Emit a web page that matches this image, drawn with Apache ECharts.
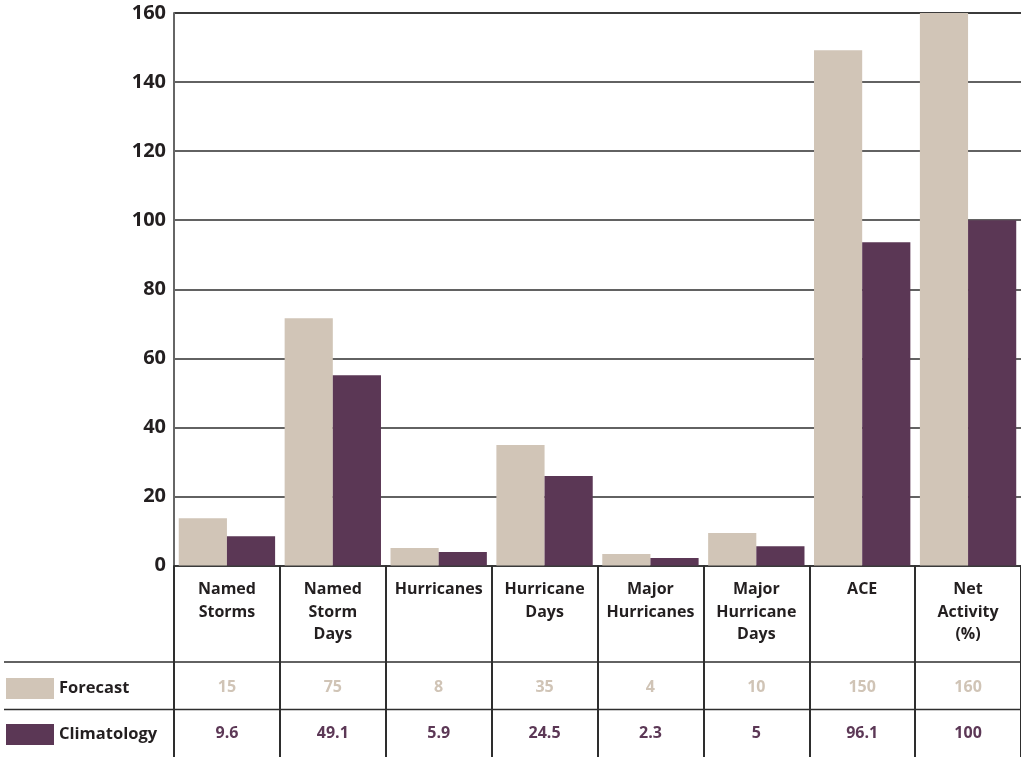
<!DOCTYPE html>
<html>
<head>
<meta charset="utf-8">
<script src="https://cdn.jsdelivr.net/npm/echarts@6/dist/echarts.min.js"></script>
<style>
html,body{margin:0;padding:0;background:#fff;}
#chart{width:1021px;height:757px;}
</style>
</head>
<body>
<div id="chart"></div>
<script>
// Data
const categories = ['Named\nStorms', 'Named\nStorm\nDays', 'Hurricanes', 'Hurricane\nDays', 'Major\nHurricanes', 'Major\nHurricane\nDays', 'ACE', 'Net\nActivity\n(%)'];
const forecastBars = [13.7, 71.6, 5.1, 34.9, 3.3, 9.4, 149.2, 160];
const climatologyBars = [8.5, 55.1, 3.9, 25.9, 2.2, 5.6, 93.6, 100];
const forecastTable = ['15', '75', '8', '35', '4', '10', '150', '160'];
const climatologyTable = ['9.6', '49.1', '5.9', '24.5', '2.3', '5', '96.1', '100'];
const yTicks = { min: 0, max: 160, interval: 20 };

const FONT = '"Open Sans", "Noto Sans", sans-serif';
const DARK = '#231f20';
const C_FORE = '#d1c5b7';
const C_CLIM = '#5b3755';
const LINE = '#2e2e2e';

const chart = echarts.init(document.getElementById('chart'), null, { renderer: 'canvas' });

const hiddenAxis = (data, color, margin) => ({
  type: 'category',
  data: data,
  position: 'bottom',
  gridIndex: 0,
  axisLine: { show: false },
  axisTick: { show: false },
  splitLine: { show: false },
  axisLabel: {
    margin: margin,
    color: color,
    fontFamily: FONT,
    fontWeight: 'bold',
    fontSize: 16,
    verticalAlign: 'middle',
    interval: 0
  }
});

chart.setOption({
  animation: false,
  backgroundColor: '#fff',
  grid: { left: 174, right: 0, top: 13, bottom: 191.5 },
  legend: {
    orient: 'vertical',
    left: 6,
    top: 678,
    padding: 0,
    itemWidth: 48,
    itemHeight: 21,
    itemGap: 25,
    icon: 'rect',
    selectedMode: false,
    textStyle: { color: DARK, fontFamily: FONT, fontWeight: 'bold', fontSize: 16.5 },
    data: ['Forecast', 'Climatology']
  },
  xAxis: [
    {
      type: 'category',
      data: categories,
      position: 'bottom',
      axisLine: { show: true, lineStyle: { color: LINE, width: 1.5 } },
      axisTick: { show: true, length: 192, lineStyle: { color: LINE, width: 2 } },
      splitLine: { show: false },
      axisLabel: {
        interval: 0,
        margin: 13,
        color: DARK,
        fontFamily: FONT,
        fontWeight: 'bold',
        fontSize: 16,
        lineHeight: 22.5,
        verticalAlign: 'top',
        align: 'center'
      }
    },
    hiddenAxis(forecastTable, '#d0c4b6', 122),
    hiddenAxis(climatologyTable, '#5c3856', 167.5)
  ],
  yAxis: {
    type: 'value',
    min: yTicks.min,
    max: yTicks.max,
    interval: yTicks.interval,
    axisLine: { show: true, lineStyle: { color: '#666', width: 2 } },
    axisTick: { show: false },
    splitLine: { show: true, lineStyle: { color: LINE, width: 1.5 } },
    axisLabel: {
      margin: 8,
      color: DARK,
      fontFamily: FONT,
      fontWeight: 'bold',
      fontSize: 20
    }
  },
  graphic: [
    { type: 'line', shape: { x1: 4, y1: 662, x2: 1021, y2: 662 }, style: { stroke: LINE, lineWidth: 1.5 } },
    { type: 'line', shape: { x1: 4, y1: 709.5, x2: 1021, y2: 709.5 }, style: { stroke: LINE, lineWidth: 1.5 } },
    { type: 'line', shape: { x1: 174, y1: 13, x2: 1021, y2: 13 }, style: { stroke: '#666', lineWidth: 2 } }
  ],
  series: [
    {
      name: 'Forecast',
      type: 'bar',
      xAxisIndex: 0,
      data: forecastBars,
      itemStyle: { color: C_FORE },
      barGap: '0%',
      barCategoryGap: '9%'
    },
    {
      name: 'Climatology',
      type: 'bar',
      xAxisIndex: 0,
      data: climatologyBars,
      itemStyle: { color: C_CLIM },
      barGap: '0%',
      barCategoryGap: '9%'
    }
  ]
});
</script>
</body>
</html>
